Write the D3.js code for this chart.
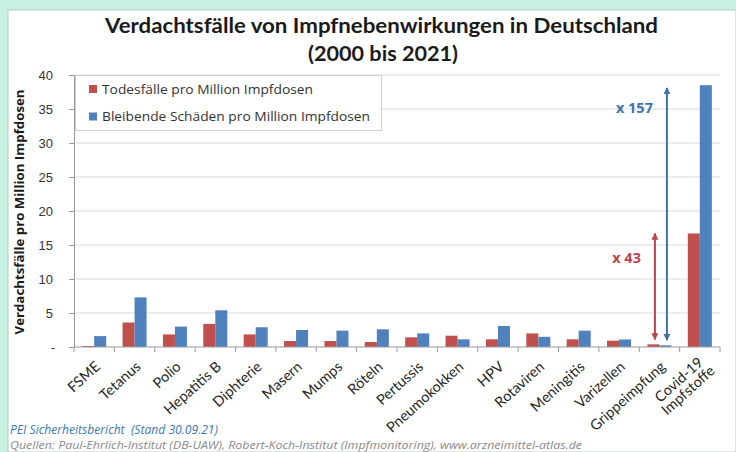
<!DOCTYPE html>
<html>
<head>
<meta charset="utf-8">
<script src="https://cdn.jsdelivr.net/npm/d3@7"></script>
<style>
  html, body { margin: 0; padding: 0; background: #c6f0df; }
  svg { display: block; }
</style>
</head>
<body>
<svg id="chart" width="736" height="452"></svg>
<script>
// ---- data ----
const categories = ["FSME", "Tetanus", "Polio", "Hepatitis B", "Diphterie", "Masern", "Mumps", "Röteln",
  "Pertussis", "Pneumokokken", "HPV", "Rotaviren", "Meningitis", "Varizellen", "Grippeimpfung", "Covid-19\nImpfstoffe"];
const seriesNames = ["Todesfälle pro Million Impfdosen", "Bleibende Schäden pro Million Impfdosen"];
const deaths  = [0.15, 3.6, 1.85, 3.4, 1.85, 0.88, 0.88, 0.73, 1.42, 1.66, 1.13, 2.0, 1.13, 0.93, 0.39, 16.7];
const damages = [1.6, 7.3, 3.0, 5.4, 2.9, 2.5, 2.4, 2.6, 2.0, 1.13, 3.1, 1.5, 2.4, 1.1, 0.245, 38.5];
const yTicks = [0, 5, 10, 15, 20, 25, 30, 35, 40];
const arrows = [
  { series: 0, category: "Grippeimpfung", from: 1.1, to: 16.7, label: "x 43", labelValue: 12.4 },
  { series: 1, category: "Grippeimpfung", from: 1.0, to: 38.1, label: "x 157", labelValue: 34.4 }
];
const colors = ["#c0504d", "#4f81bd"];
const arrowColors = ["#b8474b", "#4272ad"];

// ---- layout ----
const svg = d3.select("#chart");
const W = 736, H = 452;
const plot = { left: 74, right: 720, top: 75, bottom: 347 };

// panel
svg.append("rect").attr("x", 8).attr("y", 10).attr("width", W - 8).attr("height", H - 10)
  .attr("fill", "#ffffff").attr("stroke", "#b9c9c2").attr("stroke-width", 1);

const x0 = d3.scaleBand().domain(categories).range([plot.left, plot.right]).paddingInner(0).paddingOuter(0);
const x1 = d3.scaleBand().domain([0, 1]).range([0, x0.bandwidth()]).paddingInner(0).paddingOuter(0.68);
const y = d3.scaleLinear().domain([0, 40]).range([plot.bottom, plot.top]);

// title
svg.append("text").attr("x", 381.5).attr("y", 33).attr("text-anchor", "middle")
  .attr("font-family", "Lato, 'Open Sans', sans-serif").attr("font-weight", "bold").attr("font-size", 21)
  .attr("fill", "#1a1a1a").attr("textLength", 553).attr("lengthAdjust", "spacingAndGlyphs")
  .text("Verdachtsfälle von Impfnebenwirkungen in Deutschland");
svg.append("text").attr("x", 383).attr("y", 61).attr("text-anchor", "middle")
  .attr("font-family", "Lato, 'Open Sans', sans-serif").attr("font-weight", "bold").attr("font-size", 21)
  .attr("fill", "#1a1a1a").attr("textLength", 150).attr("lengthAdjust", "spacingAndGlyphs")
  .text("(2000 bis 2021)");

// gridlines
svg.append("g").selectAll("line").data(yTicks.filter(d => d > 0)).join("line")
  .attr("x1", plot.left).attr("x2", plot.right)
  .attr("y1", d => y(d)).attr("y2", d => y(d))
  .attr("stroke", "#d9d9d9").attr("stroke-width", 1);

// y axis
const yAxis = d3.axisLeft(y).tickValues(yTicks).tickSize(5).tickPadding(16)
  .tickFormat(d => d === 0 ? "-" : d);
const gy = svg.append("g").attr("transform", `translate(${plot.left},0)`).call(yAxis);
gy.select(".domain").attr("stroke", "#9a9a9a");
gy.selectAll(".tick line").attr("stroke", "#9a9a9a");
gy.selectAll(".tick text").attr("font-family", "Arial, 'Liberation Sans', sans-serif")
  .attr("font-size", 13).attr("fill", "#333");
gy.selectAll(".tick text").filter(d => d === 0).attr("dx", 2);

// y axis title
svg.append("text").attr("transform", "translate(24,212) rotate(-90)").attr("text-anchor", "middle")
  .attr("font-family", "'Open Sans', sans-serif").attr("font-weight", "bold").attr("font-size", 13)
  .attr("fill", "#1a1a1a").attr("textLength", 245).attr("lengthAdjust", "spacingAndGlyphs")
  .text("Verdachtsfälle pro Million Impfdosen");

// bars
const rows = categories.map((c, i) => ({ c, v: [deaths[i], damages[i]] }));
const gBars = svg.append("g");
rows.forEach(r => {
  r.v.forEach((v, s) => {
    gBars.append("rect")
      .attr("x", x0(r.c) + x1(s)).attr("width", x1.bandwidth())
      .attr("y", y(v)).attr("height", y(0) - y(v))
      .attr("fill", colors[s]);
  });
});

// x axis
const gx = svg.append("g").attr("transform", `translate(0,${plot.bottom})`);
gx.append("line").attr("x1", plot.left).attr("x2", plot.right).attr("stroke", "#9a9a9a");
const boundaries = categories.map(c => x0(c)).concat([plot.right]);
gx.selectAll("line.tk").data(boundaries).join("line").attr("class", "tk")
  .attr("x1", d => d).attr("x2", d => d).attr("y1", 0).attr("y2", 5).attr("stroke", "#9a9a9a");

// x labels
const lineH = 14;
const lblFont = "Lato, 'Open Sans', sans-serif", lblSize = 14.5;
categories.forEach(c => {
  const cx = x0(c) + x0.bandwidth() / 2;
  const lines = c.split("\n");
  const g = svg.append("g").attr("transform", `translate(${cx + 7},${plot.bottom + 21}) rotate(-42)`);
  const t = g.append("text").attr("font-family", lblFont).attr("font-size", lblSize)
    .attr("fill", "#262626");
  if (lines.length === 1) {
    t.attr("text-anchor", "end").text(c);
  } else {
    const tmp = g.append("text").attr("font-family", lblFont).attr("font-size", lblSize);
    let maxW = 0;
    lines.forEach(l => { tmp.text(l); maxW = Math.max(maxW, tmp.node().getComputedTextLength()); });
    tmp.remove();
    t.attr("text-anchor", "middle");
    lines.forEach((l, i) => {
      t.append("tspan").attr("x", -maxW / 2 + 4).attr("y", (i - (lines.length - 1) / 2) * lineH + 2).text(l);
    });
  }
});

// arrows
const defs = svg.append("defs");
arrowColors.forEach((col, i) => {
  defs.append("marker").attr("id", "ah" + i).attr("viewBox", "0 0 10 10").attr("refX", 9).attr("refY", 5)
    .attr("markerWidth", 3.5).attr("markerHeight", 3.5).attr("orient", "auto-start-reverse")
    .append("path").attr("d", "M0,0 L10,5 L0,10 Z").attr("fill", col);
});
arrows.forEach(a => {
  const ax = x0(a.category) + x1(a.series) + x1.bandwidth() / 2 + 1.5;
  svg.append("line").attr("x1", ax).attr("x2", ax).attr("y1", y(a.from)).attr("y2", y(a.to))
    .attr("stroke", arrowColors[a.series]).attr("stroke-width", 2)
    .attr("marker-start", `url(#ah${a.series})`).attr("marker-end", `url(#ah${a.series})`);
  svg.append("text").attr("x", ax - 14).attr("y", y(a.labelValue)).attr("text-anchor", "end")
    .attr("font-family", "'Open Sans', sans-serif").attr("font-weight", "bold").attr("font-size", 14.5)
    .attr("fill", arrowColors[a.series]).text(a.label);
});

// legend
const lg = svg.append("g");
lg.append("rect").attr("x", 75.5).attr("y", 75.5).attr("width", 306).attr("height", 55)
  .attr("fill", "#fff").attr("stroke", "#cfcfcf");
seriesNames.forEach((n, i) => {
  const cy = 89 + i * 27.5;
  lg.append("rect").attr("x", 89).attr("y", cy - 4).attr("width", 8).attr("height", 8).attr("fill", colors[i]);
  lg.append("text").attr("x", 102).attr("y", cy + 4.5)
    .attr("font-family", "'Open Sans', sans-serif").attr("font-size", 12.5).attr("fill", "#333")
    .attr("textLength", i === 0 ? 211 : 268).attr("lengthAdjust", "spacingAndGlyphs").text(n);
});

// footer
svg.append("text").attr("x", 10).attr("y", 434)
  .attr("font-family", "'Open Sans', sans-serif").attr("font-style", "italic").attr("font-size", 12)
  .attr("fill", "#3a78b5").attr("textLength", 208).attr("lengthAdjust", "spacingAndGlyphs")
  .attr("xml:space", "preserve").text("PEI Sicherheitsbericht  (Stand 30.09.21)");
svg.append("text").attr("x", 10).attr("y", 449)
  .attr("font-family", "'Open Sans', sans-serif").attr("font-style", "italic").attr("font-size", 11)
  .attr("fill", "#8a8a8a").attr("textLength", 572).attr("lengthAdjust", "spacingAndGlyphs")
  .text("Quellen: Paul-Ehrlich-Institut (DB-UAW), Robert-Koch-Institut (Impfmonitoring), www.arzneimittel-atlas.de");
</script>
</body>
</html>
